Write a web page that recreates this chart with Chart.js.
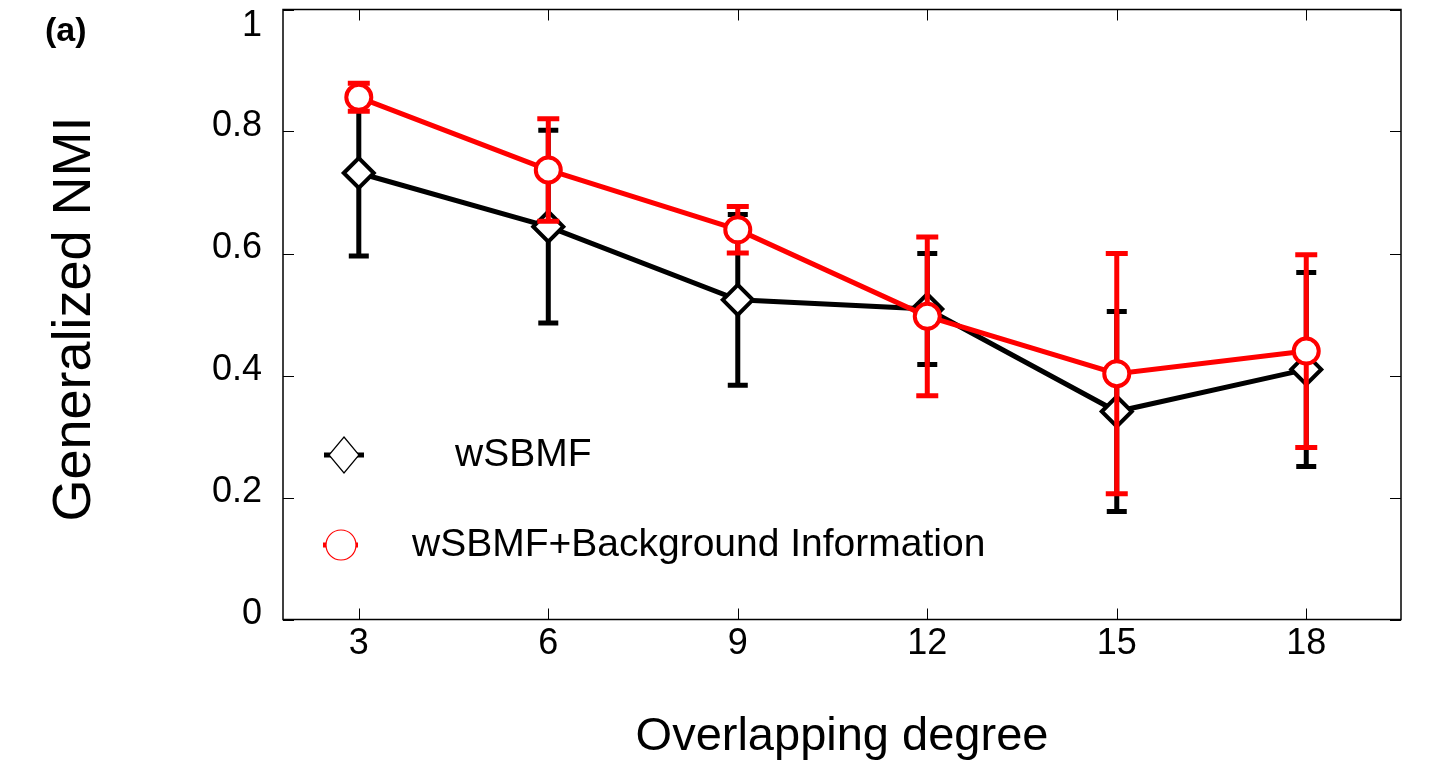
<!DOCTYPE html>
<html>
<head>
<meta charset="utf-8">
<script src="https://cdn.jsdelivr.net/npm/chart.js@4.4.0/dist/chart.umd.min.js"></script>
<style>
  html, body { margin: 0; padding: 0; background: #fff; }
  #wrap { width: 1441px; height: 775px; position: relative; }
</style>
</head>
<body>
<div id="wrap"><canvas id="chart"></canvas></div>
<script>
// values
const degrees = [3, 6, 9, 12, 15, 18];
const xTicks = [3, 6, 9, 12, 15, 18];
const yTicks = [0, 0.2, 0.4, 0.6, 0.8, 1];
const seriesNames = ['wSBMF', 'wSBMF+Background Information'];
const nmiPlain = [0.732, 0.644, 0.524, 0.509, 0.341, 0.410];
const errPlain = [0.136, 0.158, 0.140, 0.091, 0.164, 0.159];
const nmiBackground = [0.856, 0.737, 0.639, 0.497, 0.403, 0.440];
const errBackground = [0.023, 0.084, 0.038, 0.130, 0.197, 0.158];

const FONT = "'Liberation Sans', Arial, sans-serif";

const toPoints = (xs, ys) => xs.map((x, i) => ({ x, y: ys[i] }));

// error bars drawn under each dataset's line and markers
const errorBars = {
    id: 'errorBars',
    beforeDatasetDraw(chart, args) {
        const ds = chart.data.datasets[args.index];
        if (!ds.errors) return;
        const { ctx, scales: { x, y } } = chart;
        ctx.save();
        ctx.strokeStyle = ds.borderColor;
        ctx.lineWidth = 5;
        ctx.lineCap = 'butt';
        ds.data.forEach((p, i) => {
            const px = x.getPixelForValue(p.x);
            const top = y.getPixelForValue(p.y + ds.errors[i]);
            const bot = y.getPixelForValue(p.y - ds.errors[i]);
            const w = ds.capHalf;
            ctx.beginPath();
            ctx.moveTo(px, top); ctx.lineTo(px, bot);
            ctx.moveTo(px - w, top); ctx.lineTo(px + w, top);
            ctx.moveTo(px - w, bot); ctx.lineTo(px + w, bot);
            ctx.stroke();
        });
        ctx.restore();
    }
};

// MATLAB-like box, inward ticks, labels, legend
const frame = {
    id: 'frame',
    afterDraw(chart) {
        const { ctx, chartArea: a, scales: { x, y } } = chart;
        ctx.save();
        ctx.strokeStyle = '#000';
        ctx.lineWidth = 1.5;
        ctx.strokeRect(a.left, a.top, a.right - a.left, a.bottom - a.top);

        ctx.lineWidth = 1;
        ctx.beginPath();
        xTicks.forEach(v => {
            const px = Math.round(x.getPixelForValue(v)) + 0.5;
            ctx.moveTo(px, a.bottom); ctx.lineTo(px, a.bottom - 11);
            ctx.moveTo(px, a.top); ctx.lineTo(px, a.top + 11);
        });
        yTicks.forEach(v => {
            const py = Math.round(y.getPixelForValue(v)) + 0.5;
            ctx.moveTo(a.left, py); ctx.lineTo(a.left + 11, py);
            ctx.moveTo(a.right, py); ctx.lineTo(a.right - 11, py);
        });
        ctx.stroke();

        ctx.fillStyle = '#000';
        ctx.font = `36px ${FONT}`;
        ctx.textBaseline = 'middle';
        ctx.textAlign = 'center';
        xTicks.forEach(v => ctx.fillText(String(v), x.getPixelForValue(v), 644));
        ctx.textAlign = 'right';
        yTicks.forEach(v => {
            const py = Math.max(y.getPixelForValue(v) - 5, 26);
            ctx.fillText(String(v), a.left - 21, py);
        });

        // axis titles
        ctx.textAlign = 'center';
        ctx.font = `47px ${FONT}`;
        ctx.fillText('Overlapping degree', (a.left + a.right) / 2, 737);
        ctx.save();
        ctx.translate(75, 319);
        ctx.rotate(-Math.PI / 2);
        ctx.font = `54px ${FONT}`;
        ctx.fillText('Generalized NMI', 0, 0);
        ctx.restore();

        // panel label
        ctx.textAlign = 'left';
        ctx.font = `bold 34px ${FONT}`;
        ctx.fillText('(a)', 45, 32);

        // legend
        const rows = [
            { ds: chart.data.datasets[0], y: 455, x0: 324, x1: 364, mx: 344, tx: 455 },
            { ds: chart.data.datasets[1], y: 545, x0: 323, x1: 358, mx: 341, tx: 412 }
        ];
        ctx.font = `39px ${FONT}`;
        rows.forEach(r => {
            ctx.strokeStyle = r.ds.borderColor;
            ctx.lineWidth = 5;
            ctx.beginPath();
            ctx.moveTo(r.x0, r.y); ctx.lineTo(r.x1, r.y);
            ctx.stroke();
            ctx.lineWidth = 1.2;
            ctx.fillStyle = '#fff';
            ctx.beginPath();
            if (r.ds.pointStyle === 'rectRot') {
                ctx.moveTo(r.mx, r.y - 18); ctx.lineTo(r.mx + 15, r.y);
                ctx.lineTo(r.mx, r.y + 18); ctx.lineTo(r.mx - 15, r.y);
                ctx.closePath();
            } else {
                ctx.arc(r.mx, r.y, 15, 0, Math.PI * 2);
            }
            ctx.fill();
            ctx.stroke();
            ctx.fillStyle = '#000';
            ctx.fillText(r.ds.label, r.tx, r.y);
        });
        ctx.restore();
    }
};

new Chart(document.getElementById('chart'), {
    type: 'line',
    data: {
        datasets: [
            {
                label: seriesNames[0],
                data: toPoints(degrees, nmiPlain),
                errors: errPlain,
                capHalf: 10,
                borderColor: '#000000',
                backgroundColor: '#ffffff',
                borderWidth: 5,
                pointStyle: 'rectRot',
                pointRadius: 15,
                pointBorderWidth: 4,
                pointBackgroundColor: '#ffffff',
                pointBorderColor: '#000000',
                order: 2
            },
            {
                label: seriesNames[1],
                data: toPoints(degrees, nmiBackground),
                errors: errBackground,
                capHalf: 11,
                borderColor: '#ff0000',
                backgroundColor: '#ffffff',
                borderWidth: 5,
                pointStyle: 'circle',
                pointRadius: 12.5,
                pointBorderWidth: 4,
                pointBackgroundColor: '#ffffff',
                pointBorderColor: '#ff0000',
                order: 1
            }
        ]
    },
    options: {
        responsive: true,
        maintainAspectRatio: false,
        animation: false,
        layout: { autoPadding: false, padding: { left: 283, right: 40, top: 9.5, bottom: 155.5 } },
        plugins: {
            legend: { display: false },
            tooltip: { enabled: false }
        },
        scales: {
            x: { type: 'linear', min: 1.8, max: 19.5, display: false },
            y: { type: 'linear', min: 0, max: 1, display: false }
        }
    },
    plugins: [errorBars, frame]
});
</script>
</body>
</html>
